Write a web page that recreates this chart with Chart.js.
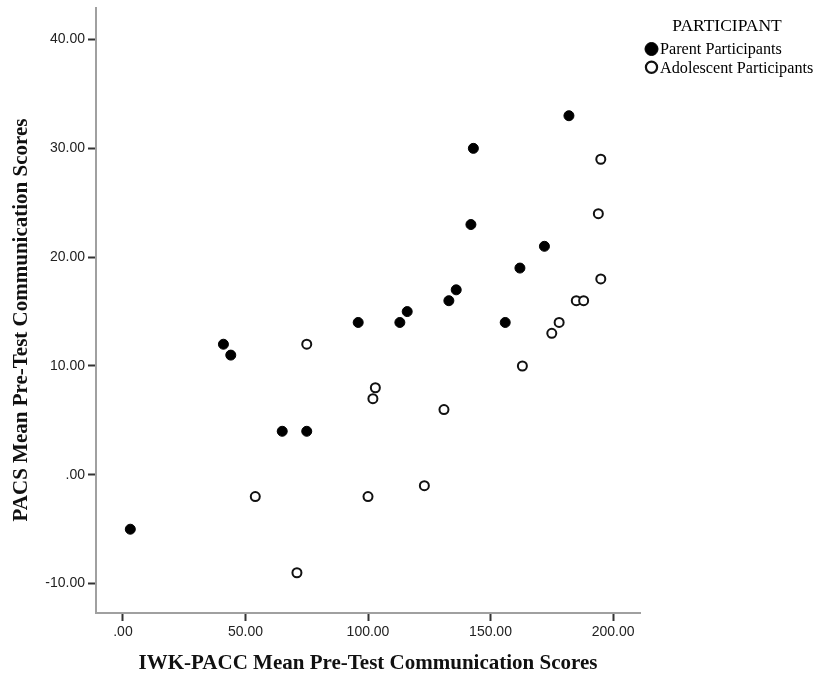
<!DOCTYPE html>
<html><head><meta charset="utf-8">
<script src="https://cdn.jsdelivr.net/npm/chart.js@4/dist/chart.umd.min.js"></script>
<style>html,body{margin:0;padding:0;background:#fff;}</style>
</head><body>
<canvas id="c" width="815" height="677"></canvas>
<script>
const parentX = [3, 41, 44, 65, 75, 96, 113, 116, 133, 136, 142, 143, 156, 162, 172, 182];
const parentY = [-5, 12, 11, 4, 4, 14, 14, 15, 16, 17, 23, 30, 14, 19, 21, 33];
const adolX = [54, 71, 75, 100, 102, 103, 123, 131, 163, 175, 178, 185, 188, 194, 195, 195];
const adolY = [-2, -9, 12, -2, 7, 8, -1, 6, 10, 13, 14, 16, 16, 24, 29, 18];
const xTickValues = [0, 50, 100, 150, 200];
const xTickLabels = ['.00', '50.00', '100.00', '150.00', '200.00'];
const yTickValues = [-10, 0, 10, 20, 30, 40];
const yTickLabels = ['-10.00', '.00', '10.00', '20.00', '30.00', '40.00'];
const seriesNames = ['Parent Participants', 'Adolescent Participants'];
const legendTitle = 'PARTICIPANT';
const xTitle = 'IWK-PACC Mean Pre-Test Communication Scores';
const yTitle = 'PACS Mean Pre-Test Communication Scores';

const legendPlugin = {
  id: 'customLegend',
  afterDraw(chart) {
    const ctx = chart.ctx;
    ctx.save();
    // y axis title
    ctx.fillStyle = '#111';
    ctx.font = 'bold 21px "Liberation Serif"';
    ctx.textAlign = 'center';
    ctx.textBaseline = 'middle';
    ctx.translate(22, 320);
    ctx.rotate(-Math.PI / 2);
    ctx.fillText(yTitle, 0, 0);
    ctx.restore();

    ctx.save();
    ctx.fillStyle = '#000';
    ctx.font = '17.5px "Liberation Serif"';
    ctx.textAlign = 'center';
    ctx.textBaseline = 'middle';
    ctx.fillText(legendTitle, 727, 26);
    ctx.font = '16.2px "Liberation Serif"';
    ctx.textAlign = 'left';
    chart.data.datasets.forEach((ds, i) => {
      const cy = 49 + i * 18.3;
      ctx.beginPath();
      ctx.arc(651.5, cy, i === 0 ? 6.5 : 5.6, 0, Math.PI * 2);
      ctx.fillStyle = ds.pointBackgroundColor;
      ctx.fill();
      ctx.lineWidth = i === 0 ? 1 : 2.2;
      ctx.strokeStyle = ds.pointBorderColor;
      ctx.stroke();
      ctx.fillStyle = '#000';
      ctx.fillText(ds.label, 660, cy + 1);
    });
    ctx.restore();
  }
};

new Chart(document.getElementById('c'), {
  type: 'scatter',
  data: {
    datasets: [
      {
        label: seriesNames[0],
        data: parentX.map((x, i) => ({ x: x, y: parentY[i] })),
        pointRadius: 5,
        pointBackgroundColor: '#000',
        pointBorderColor: '#000',
        pointBorderWidth: 1
      },
      {
        label: seriesNames[1],
        data: adolX.map((x, i) => ({ x: x, y: adolY[i] })),
        pointRadius: 4.5,
        pointBackgroundColor: '#fff',
        pointBorderColor: '#111',
        pointBorderWidth: 2
      }
    ]
  },
  options: {
    responsive: false,
    animation: false,
    events: [],
    layout: { padding: { top: 8, right: 175, left: 0, bottom: 0 } },
    plugins: { legend: { display: false }, tooltip: { enabled: false } },
    scales: {
      x: {
        type: 'linear',
        min: -11,
        max: 211,
        afterBuildTicks: s => { s.ticks = xTickValues.map(v => ({ value: v })); },
        afterFit: s => { s.height = 64; s.paddingLeft = 0; s.paddingRight = 0; },
        ticks: {
          callback: v => xTickLabels[xTickValues.indexOf(v)],
          font: { family: '"Liberation Sans"', size: 14 },
          color: '#222',
          padding: 3,
          maxRotation: 0,
          autoSkip: false
        },
        grid: { drawOnChartArea: false, drawTicks: true, tickLength: 8, tickColor: '#333', tickWidth: 2 },
        border: { display: true, color: '#a0a0a0', width: 2 },
        title: {
          display: true, text: xTitle,
          font: { family: '"Liberation Serif"', size: 21, weight: 'bold' },
          color: '#111', padding: { top: 2, bottom: 1 }
        }
      },
      y: {
        type: 'linear',
        min: -12.7,
        max: 42.9,
        afterBuildTicks: s => { s.ticks = yTickValues.map(v => ({ value: v })); },
        afterFit: s => { s.width = 96; s.paddingTop = 0; s.paddingBottom = 0; },
        ticks: {
          callback: v => yTickLabels[yTickValues.indexOf(v)],
          font: { family: '"Liberation Sans"', size: 14 },
          color: '#222',
          padding: 3,
          autoSkip: false
        },
        grid: { drawOnChartArea: false, drawTicks: true, tickLength: 8, tickColor: '#333', tickWidth: 2 },
        border: { display: true, color: '#a0a0a0', width: 2 },
        title: { display: false, text: yTitle }
      }
    }
  },
  plugins: [legendPlugin]
});
</script>
</body></html>
